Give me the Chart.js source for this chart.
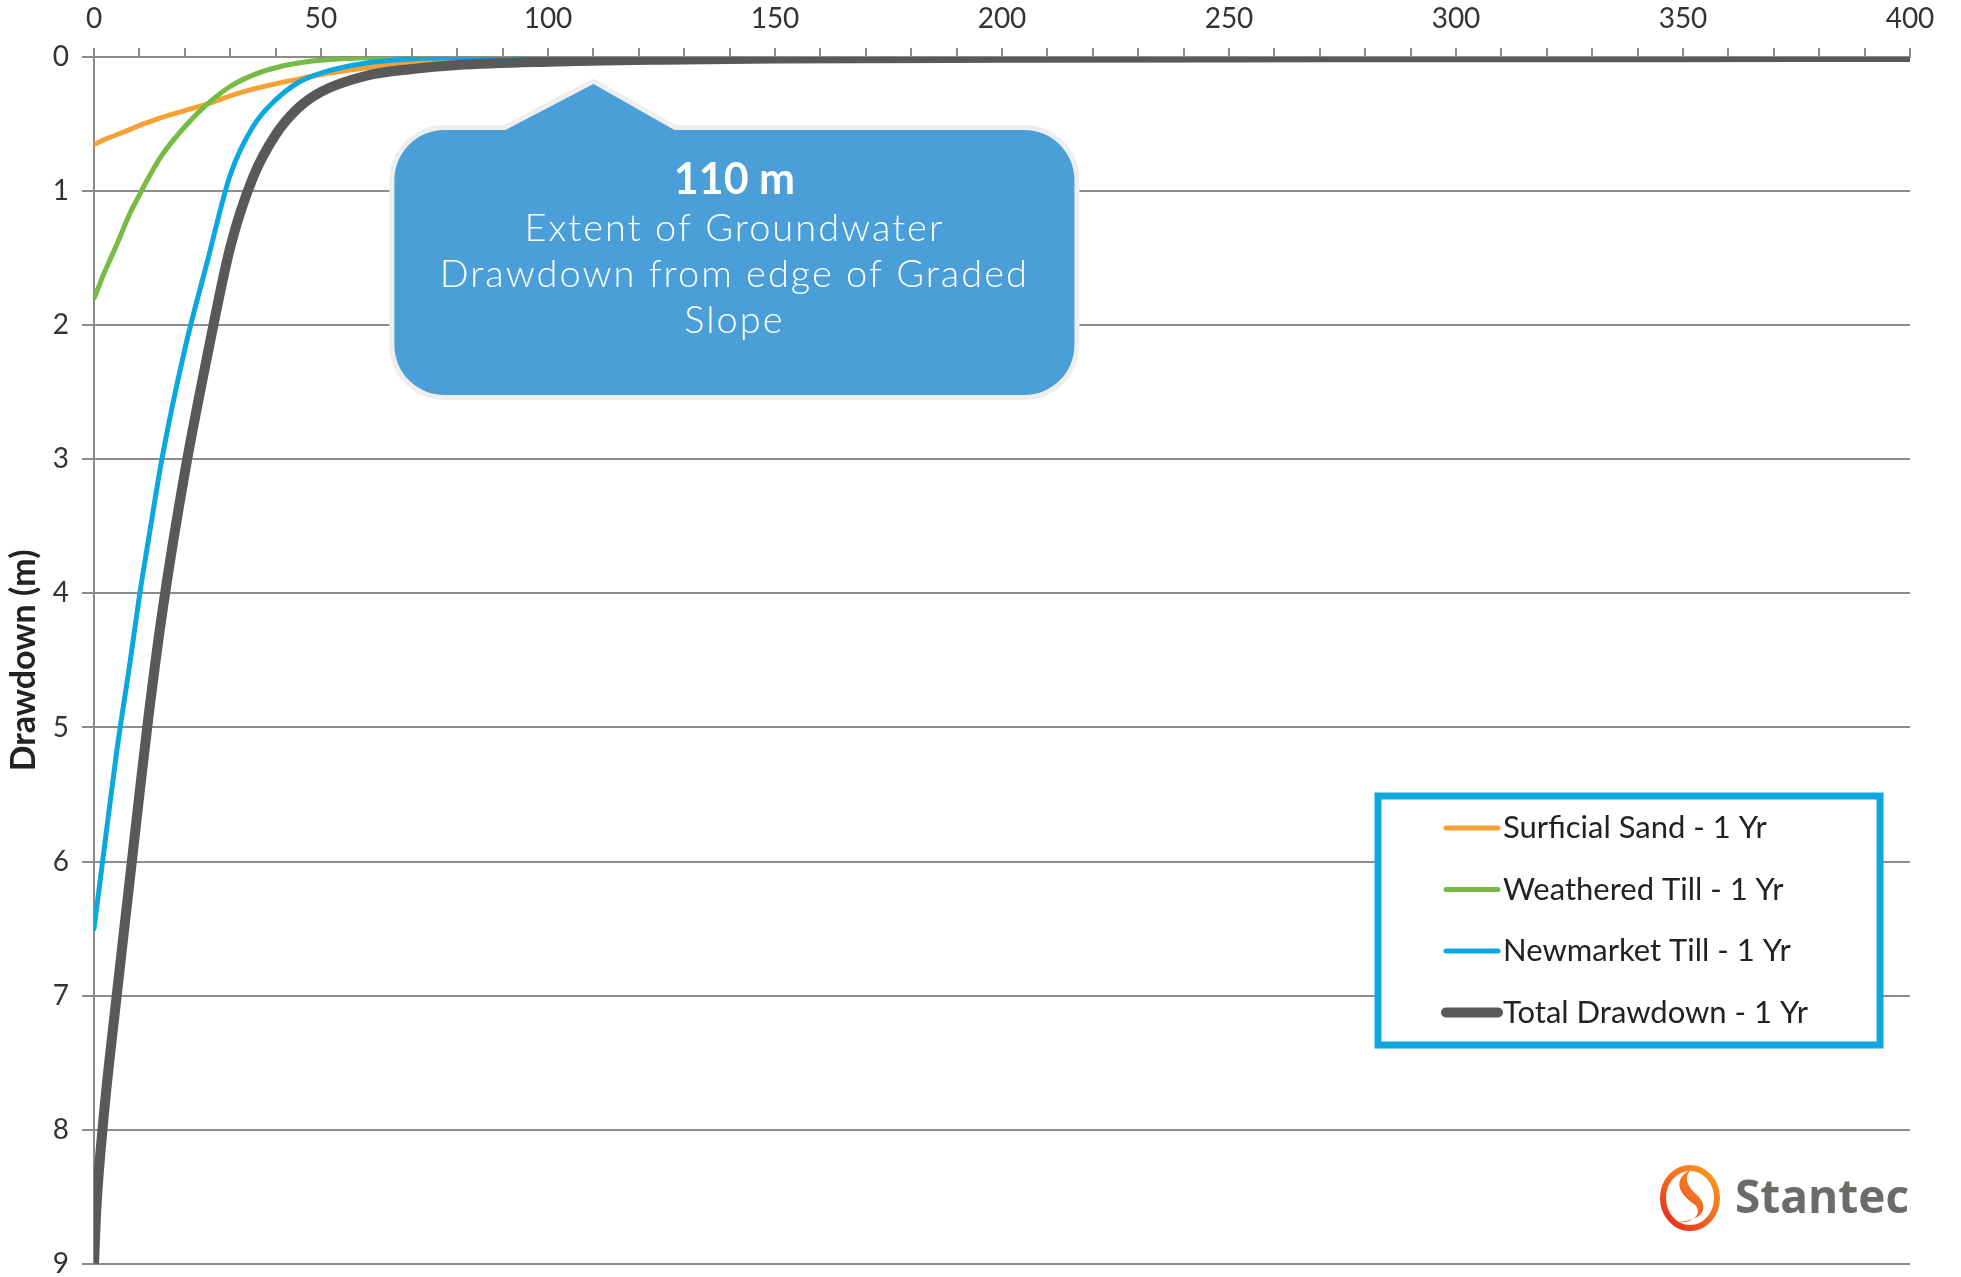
<!DOCTYPE html>
<html>
<head>
<meta charset="utf-8">
<script src="https://cdn.jsdelivr.net/npm/chart.js@4.4.1/dist/chart.umd.min.js"></script>
<style>
    body { margin: 0; background: #fff; }
    #chart { display: block; }
</style>
</head>
<body>
<canvas id="chart" width="1961" height="1277"></canvas>
<script>
// distance from edge of graded slope (m)
const distance = [0, 0.5, 2, 5, 8, 10, 12, 15, 20, 25, 30, 35, 40, 45, 50, 60, 70, 80, 100, 125, 150, 200, 250, 300, 350, 400];

// drawdown (m)
const surficialSand = [0.65, 0.645, 0.62, 0.58, 0.54, 0.51, 0.485, 0.45, 0.40, 0.35, 0.29, 0.24, 0.20, 0.165, 0.13, 0.08, 0.04, 0.015, 0.005, 0, 0, 0, 0, 0, 0, 0];
const weatheredTill = [1.8, 1.76, 1.63, 1.4, 1.16, 1.03, 0.9, 0.73, 0.52, 0.35, 0.22, 0.135, 0.08, 0.045, 0.025, 0.006, 0.001, 0, 0, 0, 0, 0, 0, 0, 0, 0];
const newmarketTill = [6.5, 6.37, 5.97, 5.18, 4.5, 4.02, 3.6, 2.99, 2.18, 1.52, 0.88, 0.52, 0.32, 0.19, 0.12, 0.045, 0.015, 0.005, 0, 0, 0, 0, 0, 0, 0, 0];
const totalDrawdown = [9.0, 8.6, 7.95, 7.0, 6.1, 5.5, 4.92, 4.15, 3.1, 2.22, 1.42, 0.9, 0.58, 0.38, 0.26, 0.14, 0.09, 0.06, 0.035, 0.02, 0.012, 0.006, 0.003, 0.002, 0.001, 0];

const seriesNames = ["Surficial Sand - 1 Yr", "Weathered Till - 1 Yr", "Newmarket Till - 1 Yr", "Total Drawdown - 1 Yr"];
const calloutDistance = 110;
const calloutLines = ["Extent of Groundwater", "Drawdown from edge of Graded", "Slope"];

const FONT = "Lato, 'Open Sans', sans-serif";

function toPoints(values) {
    return distance.map((d, i) => ({ x: d, y: values[i] }));
}

// callout bubble pointing at the extent distance
const calloutPlugin = {
    id: 'callout',
    afterDatasetsDraw(chart) {
        const ctx = chart.ctx;
        const tipX = chart.scales.x.getPixelForValue(calloutDistance);
        const tipY = chart.chartArea.top + 27;
        const left = tipX - 199, top = tipY + 46, w = 680, h = 265, r = 50;
        const right = left + w, bottom = top + h;

        ctx.save();
        ctx.beginPath();
        ctx.moveTo(left + r, top);
        ctx.lineTo(tipX - 88, top);
        ctx.lineTo(tipX, tipY);
        ctx.lineTo(tipX + 81, top);
        ctx.lineTo(right - r, top);
        ctx.arcTo(right, top, right, top + r, r);
        ctx.lineTo(right, bottom - r);
        ctx.arcTo(right, bottom, right - r, bottom, r);
        ctx.lineTo(left + r, bottom);
        ctx.arcTo(left, bottom, left, bottom - r, r);
        ctx.lineTo(left, top + r);
        ctx.arcTo(left, top, left + r, top, r);
        ctx.closePath();
        ctx.lineJoin = 'round';
        ctx.strokeStyle = '#eeeeee';
        ctx.lineWidth = 10;
        ctx.stroke();
        ctx.fillStyle = '#4a9fd8';
        ctx.fill();

        const cx = left + w / 2;
        ctx.fillStyle = '#ffffff';
        ctx.textAlign = 'center';
        ctx.textBaseline = 'middle';
        ctx.font = "bold 43px " + FONT;
        ctx.fillText(calloutDistance + " m", cx, top + 50);
        ctx.font = "300 38px " + FONT;
        ctx.letterSpacing = "2px";
        calloutLines.forEach((line, i) => {
            ctx.fillText(line, cx, top + 99 + i * 46);
        });
        ctx.restore();
    }
};

// boxed legend inside the plot + logo
const legendPlugin = {
    id: 'boxLegend',
    afterDraw(chart) {
        const ctx = chart.ctx;
        const area = chart.chartArea;
        const bx = area.right - 532, by = 796, bw = 502, bh = 249;

        ctx.save();
        ctx.fillStyle = '#ffffff';
        ctx.fillRect(bx, by, bw, bh);
        ctx.strokeStyle = '#0ea7df';
        ctx.lineWidth = 7;
        ctx.strokeRect(bx, by, bw, bh);

        ctx.textAlign = 'left';
        ctx.textBaseline = 'middle';
        ctx.font = "31px " + FONT;
        chart.data.datasets.forEach((ds, i) => {
            const ly = by + 32 + i * 61.5;
            ctx.strokeStyle = ds.borderColor;
            ctx.lineWidth = ds.borderWidth;
            ctx.lineCap = 'round';
            ctx.beginPath();
            ctx.moveTo(bx + 68, ly);
            ctx.lineTo(bx + 120, ly);
            ctx.stroke();
            ctx.fillStyle = '#222222';
            ctx.fillText(ds.label, bx + 125, ly);
        });

        // Stantec logo
        const lx = 1690, lyc = 1198;
        const grad = ctx.createLinearGradient(lx - 30, lyc + 30, lx + 30, lyc - 30);
        grad.addColorStop(0, '#e2231a');
        grad.addColorStop(0.5, '#f26b21');
        grad.addColorStop(1, '#f9a31a');
        ctx.strokeStyle = grad;
        ctx.lineWidth = 6;
        ctx.beginPath();
        ctx.ellipse(lx, lyc, 27, 30, 0, 0, Math.PI * 2);
        ctx.stroke();
        ctx.fillStyle = grad;
        ctx.beginPath();
        ctx.moveTo(lx + 4, lyc - 30);
        ctx.bezierCurveTo(lx - 22, lyc - 18, lx - 8, lyc - 2, lx + 4, lyc + 6);
        ctx.bezierCurveTo(lx + 14, lyc + 14, lx + 4, lyc + 26, lx - 12, lyc + 24);
        ctx.bezierCurveTo(lx + 16, lyc + 22, lx + 18, lyc + 8, lx + 8, lyc - 2);
        ctx.bezierCurveTo(lx - 6, lyc - 14, lx - 6, lyc - 24, lx + 4, lyc - 30);
        ctx.fill();
        ctx.fillStyle = '#6b6c68';
        ctx.font = "bold 46px 'Open Sans', sans-serif";
        ctx.textBaseline = 'middle';
        ctx.fillText("Stantec", 1735, 1200);
        ctx.restore();
    }
};

const ctx = document.getElementById('chart').getContext('2d');
new Chart(ctx, {
    type: 'line',
    data: {
        datasets: [
            {
                label: seriesNames[0],
                data: toPoints(surficialSand),
                borderColor: '#f7a033',
                borderWidth: 5,
                order: 3
            }, {
                label: seriesNames[1],
                data: toPoints(weatheredTill),
                borderColor: '#76bc43',
                borderWidth: 5,
                order: 2
            }, {
                label: seriesNames[2],
                data: toPoints(newmarketTill),
                borderColor: '#0aa7e0',
                borderWidth: 5,
                order: 1
            }, {
                label: seriesNames[3],
                data: toPoints(totalDrawdown),
                borderColor: '#58595b',
                borderWidth: 10,
                order: 0
            }]
    },
    options: {
        responsive: false,
        devicePixelRatio: 1,
        animation: false,
        layout: {
            padding: { left: 0, right: 51, top: 0, bottom: 0 }
        },
        elements: {
            point: { radius: 0 },
            line: { cubicInterpolationMode: 'monotone', borderCapStyle: 'round' }
        },
        datasets: {
            line: { clip: 0 }
        },
        plugins: {
            legend: { display: false },
            tooltip: { enabled: false }
        },
        scales: {
            x: {
                type: 'linear',
                position: 'top',
                min: 0,
                max: 400,
                afterFit(scale) { scale.height = 57; },
                ticks: {
                    stepSize: 10,
                    autoSkip: false,
                    maxRotation: 0,
                    padding: 12,
                    color: '#333333',
                    font: { family: FONT, size: 28 },
                    callback: v => (v % 50 === 0 ? v : '')
                },
                grid: {
                    drawOnChartArea: false,
                    drawTicks: true,
                    tickLength: 9,
                    color: '#8c8c8c',
                    lineWidth: 2
                },
                border: { color: '#8c8c8c', width: 2 }
            },
            y: {
                type: 'linear',
                reverse: true,
                min: 0,
                max: 9,
                afterFit(scale) { scale.width = 94; },
                ticks: {
                    stepSize: 1,
                    padding: 13,
                    color: '#333333',
                    font: { family: FONT, size: 28, lineHeight: 0.01 }
                },
                grid: {
                    color: '#8c8c8c',
                    lineWidth: 2,
                    tickLength: 12
                },
                border: { color: '#8c8c8c', width: 2 },
                title: {
                    display: true,
                    text: 'Drawdown (m)',
                    color: '#222222',
                    font: { family: FONT, size: 34, weight: 'bold', lineHeight: 1.2 },
                    padding: { top: 4, bottom: 0 }
                }
            }
        }
    },
    plugins: [calloutPlugin, legendPlugin]
});
</script>
</body>
</html>
